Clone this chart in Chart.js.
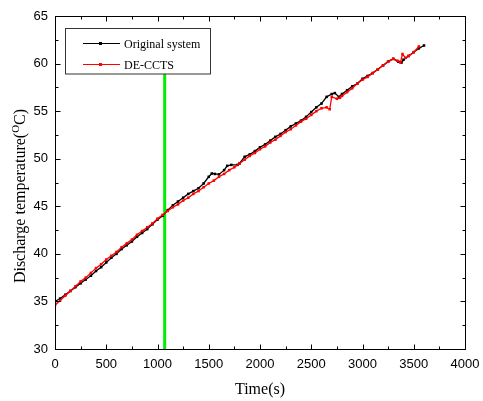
<!DOCTYPE html>
<html><head><meta charset="utf-8">
<script src="https://cdn.jsdelivr.net/npm/chart.js@4/dist/chart.umd.min.js"></script>
<style>html,body{margin:0;padding:0;background:#fff;}#wrap{width:483px;height:401px;}</style>
</head><body><div id="wrap"><canvas id="c" width="483" height="401"></canvas></div>
<script>
const seriesNames = ['Original system', 'DE-CCTS'];
const timeOriginal = [0,50,100,150,200,250,300,350,400,450,500,550,600,650,700,750,800,850,900,950,1000,1050,1100,1150,1200,1250,1300,1350,1400,1450,1500,1530,1560,1600,1650,1680,1720,1780,1800,1850,1900,1950,2000,2050,2100,2150,2200,2250,2300,2350,2400,2450,2500,2550,2600,2650,2700,2730,2770,2800,2850,2900,2950,3000,3050,3100,3150,3200,3250,3300,3350,3380,3400,3450,3500,3550,3600];
const tempOriginal = [35.0,35.3,35.7,36.1,36.5,36.9,37.3,37.7,38.2,38.6,39.1,39.6,40.0,40.5,40.9,41.3,41.8,42.2,42.6,43.1,43.6,44.0,44.6,45.1,45.5,45.9,46.3,46.6,46.9,47.4,48.1,48.45,48.4,48.35,48.8,49.25,49.35,49.35,49.5,50.2,50.45,50.8,51.2,51.5,51.9,52.3,52.6,53.0,53.4,53.7,54.0,54.4,54.9,55.4,55.8,56.5,56.8,56.9,56.5,56.8,57.2,57.6,57.9,58.4,58.7,59.0,59.4,59.8,60.2,60.5,60.2,60.1,60.4,60.8,61.2,61.6,61.9];
const timeDE = [0,50,100,150,200,250,300,350,400,450,500,550,600,650,700,750,800,850,900,950,1000,1050,1100,1150,1200,1250,1300,1350,1400,1450,1500,1550,1600,1650,1700,1750,1800,1850,1900,1950,2000,2050,2100,2150,2200,2250,2300,2350,2400,2450,2500,2550,2600,2650,2680,2700,2750,2780,2800,2850,2900,2950,3000,3050,3100,3150,3200,3250,3300,3340,3370,3390,3420,3450,3500,3550];
const tempDE = [34.6,35.1,35.6,36.1,36.6,37.1,37.5,38.0,38.5,38.9,39.4,39.8,40.2,40.7,41.1,41.5,42.0,42.4,42.8,43.2,43.7,44.1,44.5,44.9,45.2,45.6,45.9,46.3,46.6,47.0,47.4,47.7,48.1,48.4,48.8,49.1,49.5,49.9,50.3,50.6,51.0,51.3,51.7,52.0,52.4,52.8,53.1,53.5,53.9,54.2,54.6,55.0,55.3,55.4,55.2,56.5,56.3,56.4,56.6,57.0,57.4,57.9,58.3,58.6,59.0,59.4,59.8,60.2,60.5,60.3,60.1,61.0,60.6,60.8,61.2,61.8];
const markerTime = 1070;
const markerRange = [30, 59];
const xTickValues = [0,500,1000,1500,2000,2500,3000,3500,4000];
const yTickValues = [30,35,40,45,50,55,60,65];

const toPts = (xs, ys) => xs.map((x, i) => ({x: x, y: ys[i]}));

const frame = {
  id: 'frame',
  afterDraw(chart) {
    const ctx = chart.ctx, a = chart.chartArea;
    const xs = chart.scales.x, ys = chart.scales.y;
    ctx.save();
    ctx.strokeStyle = '#000'; ctx.lineWidth = 1;
    const L = Math.round(a.left) + 0.5, R = Math.round(a.right) + 0.5, T = Math.round(a.top) + 0.5, B = Math.round(a.bottom) + 0.5;
    ctx.strokeRect(L, T, R - L, B - T);
    ctx.beginPath();
    for (let v = xs.min; v <= xs.max; v += 250) {
      const px = Math.round(xs.getPixelForValue(v)) + 0.5;
      const len = (v % 500 === 0) ? 5 : 3;
      ctx.moveTo(px, B); ctx.lineTo(px, B - len);
      ctx.moveTo(px, T); ctx.lineTo(px, T + len);
    }
    for (let v = ys.min; v <= ys.max; v += 2.5) {
      const py = Math.round(ys.getPixelForValue(v)) + 0.5;
      const len = (v % 5 === 0) ? 5 : 3;
      ctx.moveTo(L, py); ctx.lineTo(L + len, py);
      ctx.moveTo(R, py); ctx.lineTo(R - len, py);
    }
    ctx.stroke();

    // legend
    ctx.fillStyle = '#fff';
    ctx.fillRect(65.5, 28.5, 145, 45.5);
    ctx.strokeStyle = '#333';
    ctx.strokeRect(65.5, 28.5, 145, 45.5);
    const entries = [[seriesNames[0], '#000', 43.5], [seriesNames[1], '#ff0000', 64.5]];
    ctx.font = '12px "Liberation Serif"';
    ctx.textBaseline = 'middle'; ctx.textAlign = 'left';
    for (const [name, col, y] of entries) {
      ctx.strokeStyle = col; ctx.lineWidth = 1;
      ctx.beginPath(); ctx.moveTo(83, y); ctx.lineTo(120, y); ctx.stroke();
      ctx.fillStyle = col; ctx.fillRect(99, y - 1.5, 3, 3);
      ctx.fillStyle = '#000';
      ctx.fillText(name, 124, y + 1.5);
    }

    // y title with superscript
    ctx.translate(21, 196);
    ctx.rotate(-Math.PI / 2);
    const big = '16px "Liberation Serif"', small = '11px "Liberation Serif"';
    const p1 = 'Discharge temperature(', p2 = 'O', p3 = 'C)';
    ctx.font = big; const w1 = ctx.measureText(p1).width, w3 = ctx.measureText(p3).width;
    ctx.font = small; const w2 = ctx.measureText(p2).width;
    let x0 = -(w1 + w2 + w3) / 2;
    ctx.fillStyle = '#000'; ctx.textBaseline = 'middle';
    ctx.font = big; ctx.fillText(p1, x0, 0);
    ctx.font = small; ctx.fillText(p2, x0 + w1, -5);
    ctx.font = big; ctx.fillText(p3, x0 + w1 + w2, 0);
    ctx.restore();
  }
};

new Chart(document.getElementById('c'), {
  type: 'line',
  data: {
    datasets: [
      { label: seriesNames[1], data: toPts(timeDE, tempDE), borderColor: '#ff0000', backgroundColor: '#ff0000',
        borderWidth: 1.3, pointStyle: 'rect', pointRadius: 1.8, pointBorderWidth: 0, order: 1 },
      { label: seriesNames[0], data: toPts(timeOriginal, tempOriginal), borderColor: '#000', backgroundColor: '#000',
        borderWidth: 1.3, pointStyle: 'rect', pointRadius: 1.8, pointBorderWidth: 0, order: 2 },
      { label: 'marker', data: markerRange.map(v => ({x: markerTime, y: v})), borderColor: '#00ee00',
        borderWidth: 3, pointRadius: 0, order: 3 }
    ]
  },
  options: {
    responsive: false, animation: false, devicePixelRatio: 1,
    layout: { padding: { left: 0, top: 16, right: 18, bottom: 0 } },
    plugins: { legend: { display: false }, tooltip: { enabled: false } },
    scales: {
      x: { type: 'linear', min: 0, max: 4000,
        afterBuildTicks: s => { s.ticks = xTickValues.map(v => ({value: v})); },
        afterFit: s => { s.height = 52; s.paddingLeft = 0; s.paddingRight = 0; },
        grid: { display: false, drawTicks: false }, border: { display: false },
        ticks: { font: { family: '"Liberation Sans"', size: 13 }, color: '#000', padding: 8, maxRotation: 0, callback: v => String(v) },
        title: { display: true, text: 'Time(s)', font: { family: '"Liberation Serif"', size: 16 }, color: '#000', padding: { top: 0, bottom: 2 } } },
      y: { type: 'linear', min: 30, max: 65,
        afterBuildTicks: s => { s.ticks = yTickValues.map(v => ({value: v})); },
        afterFit: s => { s.width = 55; s.paddingTop = 0; s.paddingBottom = 0; },
        grid: { display: false, drawTicks: false }, border: { display: false },
        ticks: { font: { family: '"Liberation Sans"', size: 13 }, color: '#000', padding: 7, callback: v => String(v) } }
    }
  },
  plugins: [frame]
});
</script></body></html>
